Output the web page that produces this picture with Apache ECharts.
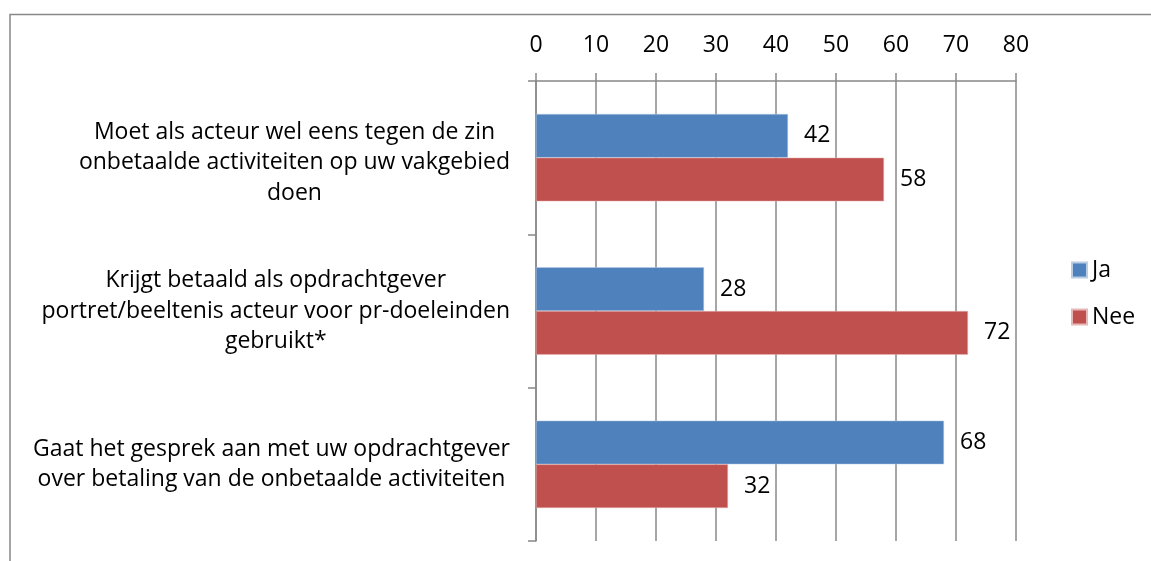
<!DOCTYPE html>
<html>
<head>
<meta charset="utf-8">
<script src="https://cdn.jsdelivr.net/npm/echarts@6/dist/echarts.min.js"></script>
<style>
html,body{margin:0;padding:0;background:#fff;}
#chart{width:1151px;height:561px;}
</style>
</head>
<body>
<div id="chart"></div>
<script>
const categories = [
  "Moet als acteur wel eens tegen de zin\nonbetaalde activiteiten op uw vakgebied\ndoen",
  "Krijgt betaald als opdrachtgever\nportret/beeltenis acteur voor pr-doeleinden\ngebruikt*",
  "Gaat het gesprek aan met uw opdrachtgever\nover betaling van de onbetaalde activiteiten"
];
const jaValues = [42, 28, 68];
const neeValues = [58, 72, 32];
const seriesNames = ["Ja", "Nee"];
const xMin = 0, xMax = 80, xStep = 10;

const FONT = "Open Sans";
const FS = 23;
const grey = "#888888";

const categoryData = categories.map(function (c, i) {
  return i === 0 ? {value: c, textStyle: {padding: [10, 0, 0, 0]}} : c;
});

const chart = echarts.init(document.getElementById('chart'), null, {renderer: 'canvas'});
chart.setOption({
  backgroundColor: '#ffffff',
  animation: false,
  textStyle: {fontFamily: FONT, color: '#000'},
  graphic: [{
    type: 'rect',
    shape: {x: 10, y: 14.5, width: 1300, height: 700},
    style: {fill: 'none', stroke: grey, lineWidth: 1.5},
    silent: true
  }],
  legend: {
    orient: 'vertical',
    left: 1066,
    top: 253,
    itemWidth: 15,
    itemHeight: 15,
    itemGap: 23,
    icon: 'rect',
    textStyle: {fontFamily: FONT, fontSize: FS, lineHeight: 24, color: '#000'},
    data: seriesNames
  },
  grid: {left: 536, right: 135, top: 81, bottom: 20, containLabel: false},
  xAxis: {
    type: 'value',
    position: 'top',
    min: xMin, max: xMax, interval: xStep,
    axisLine: {show: true, lineStyle: {color: grey, width: 1.5}},
    axisTick: {show: true, length: 8, lineStyle: {color: grey, width: 1.5}},
    axisLabel: {fontFamily: FONT, fontSize: FS, color: '#000', margin: 24},
    splitLine: {show: true, lineStyle: {color: grey, width: 1.5}}
  },
  yAxis: {
    type: 'category',
    inverse: true,
    data: categoryData,
    axisLine: {show: true, lineStyle: {color: grey, width: 1.5}},
    axisTick: {show: true, length: 8, lineStyle: {color: grey, width: 1.5}},
    axisLabel: {
      fontFamily: FONT, fontSize: FS, color: '#000', margin: 26, align: 'right',
      lineHeight: 30.5,
      formatter: function (v) {
        return v.split('\n').map(function (l) { return '{c|' + l + '}'; }).join('\n');
      },
      rich: {
        c: {align: 'center', fontFamily: FONT, fontSize: FS, lineHeight: 30.5, color: '#000'}
      }
    }
  },
  series: [
    {
      name: seriesNames[0], type: 'bar', data: jaValues,
      barGap: '0%', barCategoryGap: '43%',
      itemStyle: {color: '#4F81BD', borderColor: '#b9cde5', borderWidth: 0.5},
      label: {show: true, position: 'right', distance: 16, fontFamily: FONT, fontSize: FS, color: '#000'}
    },
    {
      name: seriesNames[1], type: 'bar', data: neeValues,
      barGap: '0%', barCategoryGap: '43%',
      itemStyle: {color: '#C0504D', borderColor: '#e6b9b8', borderWidth: 0.5},
      label: {show: true, position: 'right', distance: 16, fontFamily: FONT, fontSize: FS, color: '#000'}
    }
  ]
});
</script>
</body>
</html>
